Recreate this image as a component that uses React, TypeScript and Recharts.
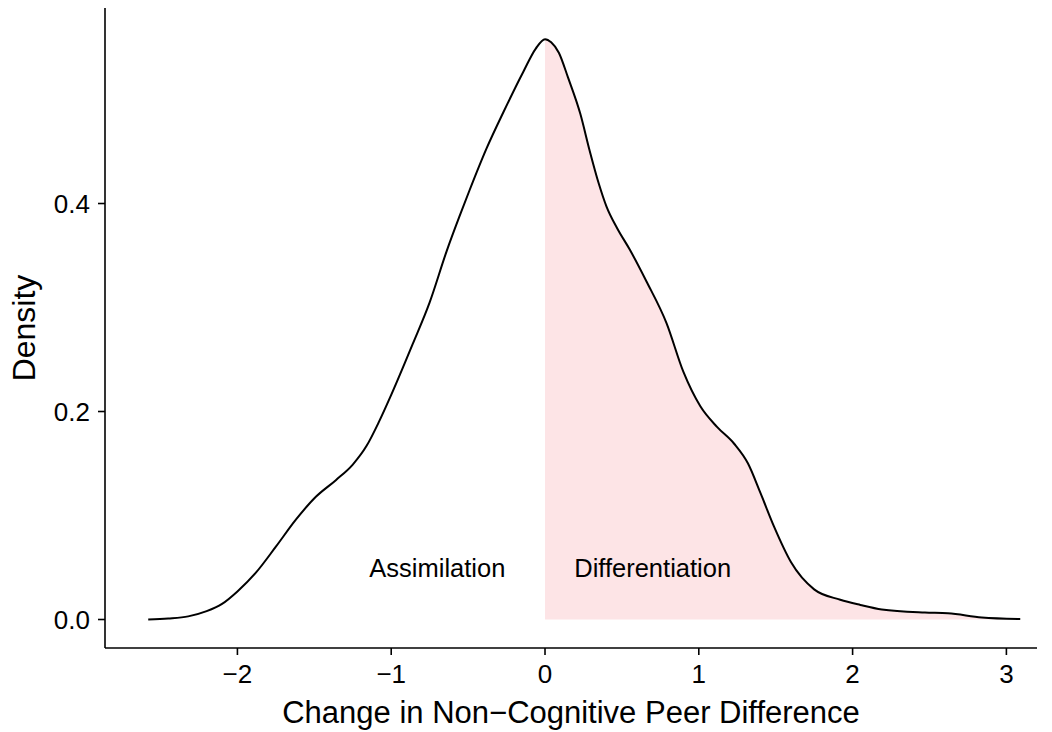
import { Area, ComposedChart, Label, Line, ReferenceDot, XAxis, YAxis } from "recharts";

// density estimate
const xValues = [
  -2.58, -2.45, -2.32, -2.2, -2.1, -2.0, -1.88, -1.75, -1.62, -1.49, -1.36, -1.25, -1.16, -1.08,
  -1.0, -0.86, -0.75, -0.64, -0.55, -0.49, -0.38, -0.27, -0.14, -0.06, 0.0, 0.04, 0.09, 0.15,
  0.23, 0.29, 0.35, 0.4, 0.47, 0.55, 0.66, 0.79, 0.9, 1.01, 1.12, 1.23, 1.32, 1.4, 1.49, 1.6,
  1.75, 1.92, 2.05, 2.19, 2.47, 2.62, 2.84, 3.09,
];
const densityValues = [
  0.0, 0.001, 0.003, 0.008, 0.015, 0.027, 0.045, 0.07, 0.096, 0.118, 0.134, 0.149, 0.167, 0.19,
  0.216, 0.265, 0.305, 0.354, 0.39, 0.413, 0.453, 0.488, 0.527, 0.549, 0.558, 0.555, 0.545, 0.521,
  0.486, 0.451, 0.419, 0.397, 0.376, 0.356, 0.325, 0.285, 0.238, 0.205, 0.185, 0.169, 0.15, 0.122,
  0.089, 0.055, 0.029, 0.019, 0.014, 0.0096, 0.0067, 0.006, 0.002, 0.0005,
];

const xTicks = [-2, -1, 0, 1, 2, 3];
const yTicks = [0, 0.2, 0.4];

const annotations = [
  { x: -0.7, y: 0.05, text: "Assimilation" },
  { x: 0.7, y: 0.05, text: "Differentiation" },
];

const FONT = "'Liberation Sans', Arial, Helvetica, sans-serif";
const SHADE = "#fde4e6";

const data = xValues.map((x, i) => ({
  x,
  density: densityValues[i],
  shade: x >= 0 ? densityValues[i] : null,
}));

const minus = (v: number) => String(v).replace("-", "\u2212");

export default function App() {
  return (
    <div style={{ position: "fixed", left: 0, top: 0, background: "#fff" }}>
      <ComposedChart
        width={1052}
        height={732}
        data={data}
        margin={{ top: 8, right: 15, bottom: 0, left: 0 }}
        style={{ fontFamily: FONT }}
      >
        <XAxis
          type="number"
          dataKey="x"
          domain={[-2.861, 3.199]}
          ticks={xTicks}
          allowDataOverflow
          height={84}
          axisLine={{ stroke: "#000", strokeWidth: 1.6 }}
          tickLine={{ stroke: "#000", strokeWidth: 1.6 }}
          tickSize={7}
          tickMargin={10}
          tick={{ fill: "#000", fontSize: 26, fontFamily: FONT }}
          tickFormatter={minus}
        >
          <Label
            content={(props: any) => {
              const vb = props.viewBox;
              return (
                <text
                  x={vb.x + vb.width / 2}
                  y={vb.y + vb.height - 9}
                  textAnchor="middle"
                  fontSize={31}
                  fill="#000"
                  fontFamily={FONT}
                >
                  Change in Non{"\u2212"}Cognitive Peer Difference
                </text>
              );
            }}
          />
        </XAxis>
        <YAxis
          type="number"
          domain={[-0.0274, 0.588]}
          ticks={yTicks}
          allowDataOverflow
          width={105}
          axisLine={{ stroke: "#000", strokeWidth: 1.6 }}
          tickLine={{ stroke: "#000", strokeWidth: 1.6 }}
          tickSize={7}
          tickMargin={8}
          tick={{ fill: "#000", fontSize: 26, fontFamily: FONT }}
          tickFormatter={(v: number) => v.toFixed(1)}
        >
          <Label
            content={(props: any) => {
              const vb = props.viewBox;
              const cx = vb.x + 24;
              const cy = vb.y + vb.height / 2;
              return (
                <text
                  x={cx}
                  y={cy}
                  dy="0.355em"
                  transform={`rotate(-90, ${cx}, ${cy})`}
                  textAnchor="middle"
                  fontSize={32}
                  fill="#000"
                  fontFamily={FONT}
                >
                  Density
                </text>
              );
            }}
          />
        </YAxis>
        <Area
          type="monotone"
          dataKey="shade"
          baseValue={0}
          fill={SHADE}
          fillOpacity={1}
          stroke="none"
          isAnimationActive={false}
        />
        <Line
          type="monotone"
          dataKey="density"
          stroke="#000"
          strokeWidth={2}
          dot={false}
          isAnimationActive={false}
        />
        {annotations.map((a) => (
          <ReferenceDot
            key={a.text}
            x={a.x}
            y={a.y}
            r={0}
            fill="none"
            stroke="none"
            label={{ value: a.text, position: "center", fill: "#000", fontSize: 25.5, fontFamily: FONT }}
          />
        ))}
      </ComposedChart>
    </div>
  );
}
